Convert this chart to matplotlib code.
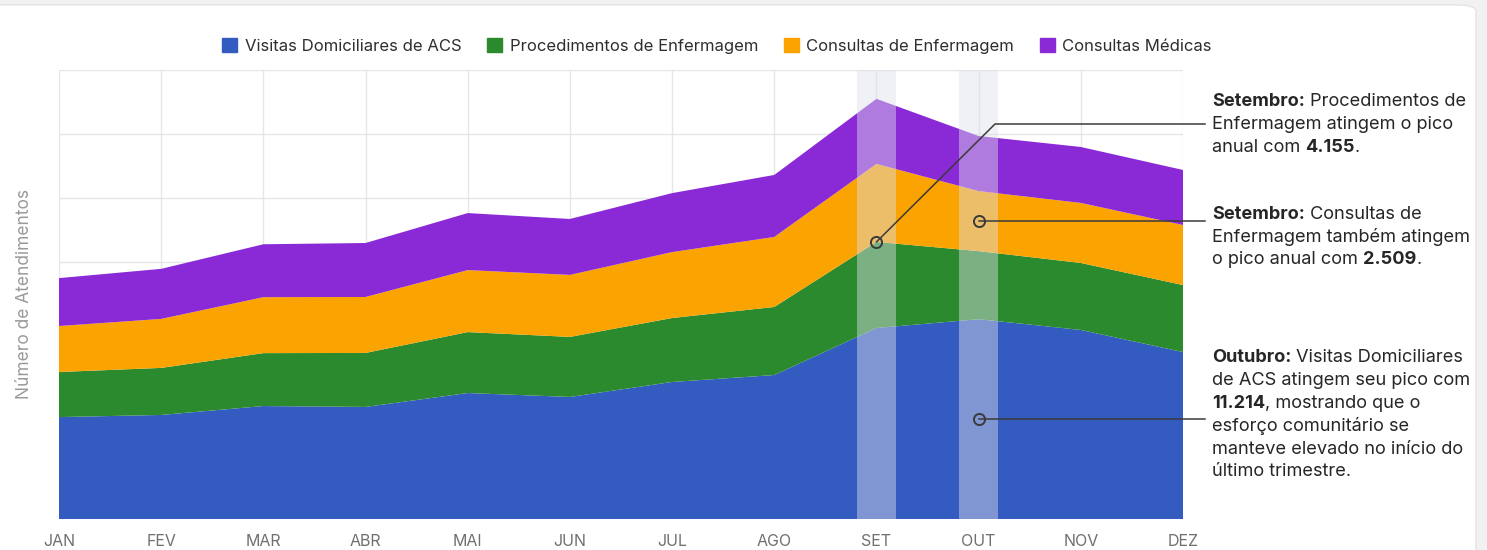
import matplotlib
matplotlib.use('Agg')
import matplotlib.pyplot as plt
from matplotlib.patches import Patch, FancyBboxPatch
import numpy as np

plt.rcParams['font.family'] = ['Inter', 'DejaVu Sans']

W, H = 1487, 550

meses = ['JAN', 'FEV', 'MAR', 'ABR', 'MAI', 'JUN', 'JUL', 'AGO', 'SET', 'OUT', 'NOV', 'DEZ']

# valores (aprox.)
visitas_acs = [5720, 5840, 6340, 6290, 7070, 6850, 7690, 8080, 10720, 11214, 10610, 9370]
proc_enf = [2530, 2640, 2970, 3030, 3420, 3370, 3590, 3820, 4830, 3820, 3760, 3760]
cons_enf = [2580, 2750, 3140, 3140, 3480, 3480, 3700, 3930, 4380, 3370, 3370, 3370]
cons_med = [2690, 2810, 2970, 3030, 3200, 3140, 3310, 3480, 3650, 3090, 3140, 3090]

series = ['Visitas Domiciliares de ACS', 'Procedimentos de Enfermagem',
          'Consultas de Enfermagem', 'Consultas Médicas']
cores = ['#345bbf', '#2b8a2d', '#fba300', '#8a2ad6']

y_max = 25200
y_step = 3600

fig = plt.figure(figsize=(W / 100, H / 100), dpi=100)
fig.patch.set_facecolor('#f1f1f1')
card = FancyBboxPatch((-0.02, -0.1), 1476 / W + 0.02, 1.1 - 5 / H,
                      boxstyle='round,pad=0,rounding_size=0.012',
                      transform=fig.transFigure, facecolor='white',
                      edgecolor='#e4e4e4', lw=1, zorder=-5)
fig.patches.append(card)

ax = fig.add_axes([59 / W, 1 - 519 / H, (1183 - 59) / W, (519 - 70) / H])
ax.set_facecolor('none')

x = np.arange(len(meses))
ax.stackplot(x, visitas_acs, proc_enf, cons_enf, cons_med, colors=cores,
             labels=series, zorder=2, lw=0)

ax.set_xlim(0, len(meses) - 1)
ax.set_ylim(0, y_max)
ax.set_xticks(x)
ax.set_xticklabels(meses, color='#707070', fontsize=11.5)
ax.set_yticks(np.arange(0, y_max + 1, y_step))
ax.set_yticklabels([])
ax.tick_params(length=0, pad=11)
ax.grid(True, color='#e6e6e6', lw=1, zorder=0)
ax.set_axisbelow(True)
for s in ax.spines.values():
    s.set_visible(False)
ax.set_ylabel('Número de Atendimentos', color='#9a9a9a', fontsize=12.5, labelpad=8)

# faixas de destaque em SET e OUT
for i in (8, 9):
    ax.axvspan(i - 0.19, i + 0.19, color='#dde0ea', alpha=0.45, zorder=3, lw=0)


def px_to_data(px, py):
    return (px - 59) / (1183 - 59) * (len(meses) - 1), (519 - py) / (519 - 70) * y_max


# marcadores e linhas de chamada
cum = np.cumsum([visitas_acs, proc_enf, cons_enf, cons_med], axis=0)
p_set = (8, cum[1][8])
p_out_cons = (9, cum[1][9] + cons_enf[9] / 2)
p_out_acs = (9, visitas_acs[9] / 2)

x_end, _ = px_to_data(1205, 0)
xk, yk1 = px_to_data(995, 124)
lc = '#3a3a3a'
ax.plot([p_set[0], xk, x_end], [p_set[1], yk1, yk1], color=lc, lw=1.1, clip_on=False, zorder=5)
ax.plot([p_out_cons[0], x_end], [p_out_cons[1], p_out_cons[1]], color=lc, lw=1.1, clip_on=False, zorder=5)
ax.plot([p_out_acs[0], x_end], [p_out_acs[1], p_out_acs[1]], color=lc, lw=1.1, clip_on=False, zorder=5)
for p in (p_set, p_out_cons, p_out_acs):
    ax.plot(*p, 'o', ms=8, mfc='none', mec=lc, mew=1.4, zorder=6)

# legenda
handles = [Patch(facecolor=c, edgecolor=c) for c in cores]
leg = fig.legend(handles, series, loc='center', bbox_to_anchor=(717 / W, 1 - 46 / H),
                 ncol=4, frameon=False, fontsize=12, handlelength=0.9, handleheight=0.9,
                 handletextpad=0.45, columnspacing=1.55)
for t in leg.get_texts():
    t.set_color('#2e2e2e')

# textos de anotação com partes em negrito
renderer = fig.canvas.get_renderer()
fs_ann = 13.1
tc = '#262626'


def text_width(s, weight):
    t = fig.text(0, 0, s, fontsize=fs_ann, fontweight=weight)
    w = t.get_window_extent(renderer=renderer).width
    t.remove()
    return w


space_w = text_width('x x', 'normal') - text_width('xx', 'normal')


def rich_line(px, py, parts):
    for s, bold in parts:
        if s.startswith(' '):
            px += space_w
            s = s[1:]
        t = fig.text(px / W, 1 - py / H, s, fontsize=fs_ann, color=tc,
                     fontweight='bold' if bold else 'normal', va='center', ha='left')
        px += t.get_window_extent(renderer=renderer).width


blocos = [
    (102, [[('Setembro:', True), (' Procedimentos de', False)],
           [('Enfermagem atingem o pico', False)],
           [('anual com', False), (' 4.155', True), ('.', False)]]),
    (214, [[('Setembro:', True), (' Consultas de', False)],
           [('Enfermagem também atingem', False)],
           [('o pico anual com', False), (' 2.509', True), ('.', False)]]),
    (358, [[('Outubro:', True), (' Visitas Domiciliares', False)],
           [('de ACS atingem seu pico com', False)],
           [('11.214', True), (', mostrando que o', False)],
           [('esforço comunitário se', False)],
           [('manteve elevado no início do', False)],
           [('último trimestre.', False)]]),
]
for y0, linhas in blocos:
    for k, partes in enumerate(linhas):
        rich_line(1212, y0 + k * 22.8, partes)

fig.savefig('out.png', dpi=100, facecolor=fig.get_facecolor())
